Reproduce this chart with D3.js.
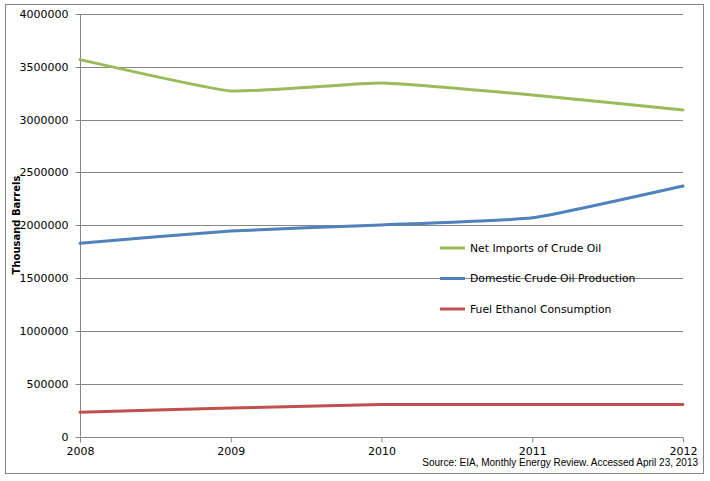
<!DOCTYPE html>
<html><head><meta charset="utf-8">
<script src="https://cdn.jsdelivr.net/npm/d3@7"></script>
<style>body{margin:0;background:#fff}svg{display:block}</style>
</head><body><svg id="c" width="710" height="481"></svg>
<script>
const years = [2008, 2009, 2010, 2011, 2012];
const netImports = [3568000, 3272000, 3347000, 3234000, 3092000];
const domesticProduction = [1830000, 1946000, 2003000, 2070000, 2372000];
const ethanolConsumption = [229000, 270000, 302000, 302000, 304000];
const seriesNames = ["Net Imports of Crude Oil", "Domestic Crude Oil Production", "Fuel Ethanol Consumption"];
const yTicks = [0, 500000, 1000000, 1500000, 2000000, 2500000, 3000000, 3500000, 4000000];
const colors = ["#9BBB59", "#4F81BD", "#C0504D"];
const seriesValues = [netImports, domesticProduction, ethanolConsumption];

const svg = d3.select("#c");
svg.append("rect").attr("x",5.5).attr("y",4.5).attr("width",698).attr("height",469)
  .attr("fill","#fff").attr("stroke","#868686").attr("stroke-width",1);

const L=80, R=683, T=14, B=436.5;
const x = d3.scalePoint().domain(years).range([L,R]);
const y = d3.scaleLinear().domain([0,4000000]).range([B,T]);

// gridlines
svg.append("g").selectAll("line").data(yTicks.filter(d=>d>0)).join("line")
  .attr("x1",L).attr("x2",R).attr("y1",d=>Math.round(y(d))+0.5).attr("y2",d=>Math.round(y(d))+0.5)
  .attr("stroke","#868686").attr("stroke-width",1);

// y axis
const ya = svg.append("g").attr("transform",`translate(${L+0.5},0)`)
  .call(d3.axisLeft(y).tickValues(yTicks).tickSize(5).tickPadding(7).tickFormat(d3.format("d")));
ya.select(".domain").attr("stroke","#868686").attr("d",`M0,${T}V${B}`);
ya.selectAll(".tick line").attr("stroke","#868686");
ya.selectAll(".tick").attr("transform",d=>`translate(0,${Math.round(y(d))+0.5})`);
ya.selectAll("text").attr("font-family","DejaVu Sans, Verdana, sans-serif").attr("font-size",11).attr("fill","#000");

// x axis
const xa = svg.append("g").attr("transform",`translate(0,${Math.round(B)+0.5})`)
  .call(d3.axisBottom(x).tickSize(5).tickPadding(5).tickFormat(d3.format("d")));
xa.select(".domain").attr("stroke","#868686").attr("d",`M${L},0H${R}`);
xa.selectAll(".tick line").attr("stroke","#868686");
xa.selectAll("text").attr("font-family","DejaVu Sans, Verdana, sans-serif").attr("font-size",11).attr("fill","#000");

// lines
const line = d3.line().x((d,i)=>x(years[i])).y(d=>y(d)).curve(d3.curveCardinal.tension(0.6));
svg.append("g").selectAll("path").data(seriesValues).join("path")
  .attr("d",line).attr("fill","none").attr("stroke",(d,i)=>colors[i])
  .attr("stroke-width",3).attr("stroke-linecap","round");

// legend
const lg = svg.append("g").selectAll("g").data(seriesNames).join("g")
  .attr("transform",(d,i)=>`translate(440,${248+i*30.5})`);
lg.append("line").attr("x1",0).attr("x2",25).attr("stroke",(d,i)=>colors[i]).attr("stroke-width",3);
lg.append("text").attr("x",30).attr("dy","0.35em").text(d=>d)
  .attr("font-family","DejaVu Sans, Verdana, sans-serif").attr("font-size",10.8).attr("fill","#000");

// y label
svg.append("text").attr("transform","translate(20,225) rotate(-90)").attr("text-anchor","middle")
  .attr("font-family","DejaVu Sans, Verdana, sans-serif").attr("font-size",10).attr("font-weight","bold")
  .text("Thousand Barrels");

// source
svg.append("text").attr("x",698).attr("y",466).attr("text-anchor","end")
  .attr("font-family","Liberation Sans, Arial, sans-serif").attr("font-size",10)
  .text("Source: EIA, Monthly Energy Review. Accessed April 23, 2013");
</script></body></html>
